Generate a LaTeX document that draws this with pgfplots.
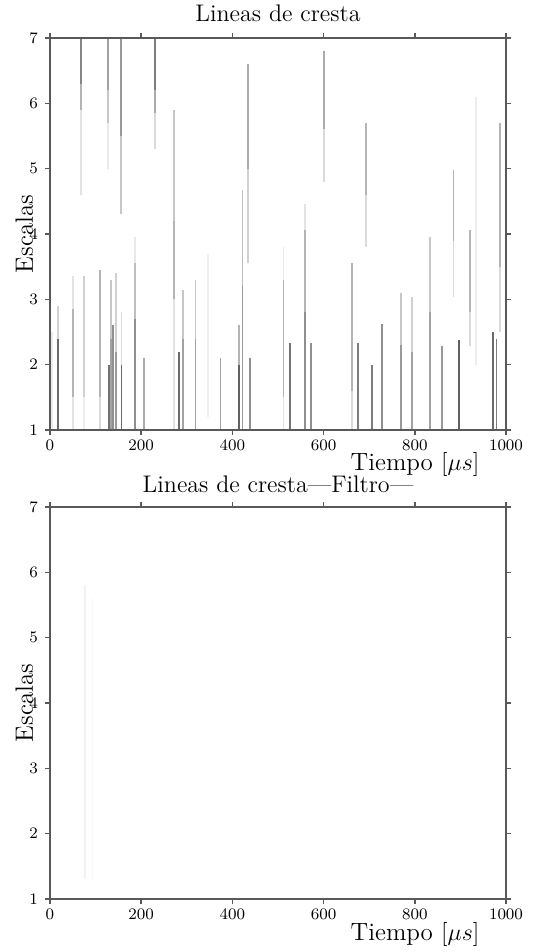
\documentclass[border=0pt]{standalone}
\usepackage{pgfplots}
\pgfplotsset{compat=1.18}
\usepackage{pgfplotstable}

% ridge segments: x, start scale, length, intensity (0 = white, 1 = dark)
\pgfplotstableread{
x y dy c
5 1 1.5 0.1
18 1 1.4 0.8
18 2.4 0.5 0.25
51 1 0.5 0.15
51 1.5 1.35 0.4
51 2.85 0.5 0.15
68 6.3 0.7 0.65
68 5.9 0.4 0.4
68 4.6 1.3 0.15
75 1 0.5 0.1
75 1.5 1.85 0.25
110 1 0.5 0.2
110 1.5 1.95 0.4
127 6.2 0.8 0.5
127 5.7 0.5 0.3
127 5.0 0.7 0.12
129 1 1 0.75
134 1 1.4 0.5
134 2.4 0.9 0.3
138 1 1.6 0.6
144 1 1.2 0.55
144 2.2 1.2 0.25
155 5.5 1.5 0.55
155 4.3 1.2 0.3
157 1 1 0.8
157 2 0.8 0.2
186 1 1.7 0.6
186 2.7 0.85 0.35
186 3.55 0.4 0.12
207 1 1.1 0.45
230 6.2 0.8 0.7
230 5.85 0.35 0.45
230 5.3 0.55 0.2
272 4.2 1.7 0.3
272 3.0 1.2 0.4
272 1 2 0.15
283 1 1.2 0.8
292 1 1.4 0.5
292 2.4 0.75 0.3
319 1 1.4 0.5
319 2.4 0.9 0.3
347 1.2 2.5 0.08
374 1 1.1 0.5
415 1 1.0 0.85
415 2.0 0.6 0.4
422 1 2.2 0.55
422 3.2 1.47 0.35
434 5.0 1.6 0.45
434 3.55 1.45 0.25
439 1 1.1 0.6
512 1 0.5 0.15
512 1.5 1.8 0.4
512 3.3 0.5 0.12
526 1 1.33 0.75
560 1 1.8 0.6
560 2.8 1.26 0.4
560 4.06 0.4 0.15
572 1 1.33 0.6
600 5.6 1.2 0.45
600 4.8 0.8 0.2
663 1 0.6 0.2
663 1.6 1.95 0.4
676 1 1.33 0.7
693 4.6 1.1 0.4
693 3.8 0.8 0.2
707 1 1 0.7
728 1 1.63 0.6
769 1 1.3 0.55
769 2.3 0.8 0.3
794 1 1.2 0.5
794 2.2 0.84 0.25
834 1 1.8 0.5
834 2.8 1.16 0.3
859 1 1.28 0.55
885 3.9 1.08 0.4
885 3.04 0.86 0.2
897 1 1.38 0.85
921 2.8 1.26 0.4
921 2.28 0.52 0.2
935 2 4.1 0.1
972 1 1.5 0.8
979 1 1.4 0.7
986 3.5 2.2 0.4
986 2.5 1.0 0.2
}\ridgesA

\pgfplotstableread{
x y dy c
76 1.3 4.5 0.07
93 1.3 4.3 0.04
}\ridgesB

\begin{document}
\begin{tikzpicture}
\path[use as bounding box] (-25pt,-261pt) rectangle (248.5pt,215pt);
\pgfplotsset{
  ridgeaxis/.style={
    scale only axis, width=228pt, height=196pt,
    xmin=0, xmax=1000, ymin=1, ymax=7,
    xtick={0,200,...,1000}, ytick={1,...,7},
    /pgf/number format/1000 sep={},
    tick align=outside, major tick length=2.5pt,
    axis on top=true,
    axis line style={black!65, line width=1pt},
    every tick/.style={black!65, line width=0.8pt},
    tick label style={font=\fontsize{8}{9}\selectfont},
    xticklabel style={yshift=1pt},
    colormap={ridge}{rgb255(0cm)=(255,255,255); rgb255(1cm)=(70,70,70)},
    point meta min=0, point meta max=1,
    title style={at={(axis description cs:0.5,1)}, anchor=base, yshift=2pt, inner sep=1pt, font=\fontsize{12}{14}\selectfont},
    xlabel={Tiempo $[\mu s]$},
    xlabel style={at={(axis description cs:0.947,0)}, anchor=base east, yshift=-20.5pt, inner sep=1pt, font=\fontsize{12.5}{15}\selectfont},
    ylabel={Escalas},
    ylabel style={at={(axis description cs:0,0.5)}, anchor=base, yshift=8.5pt, font=\fontsize{12.5}{15}\selectfont},
  }
}
\begin{axis}[ridgeaxis, at={(0pt,0pt)}, anchor=south west, title={Lineas de cresta}]
\addplot[quiver={u=0, v=\thisrow{dy}, colored=mapped color}, point meta=\thisrow{c}, line width=0.9pt, -] table[x=x, y=y] \ridgesA;
\end{axis}
\begin{axis}[ridgeaxis, at={(0pt,-234.5pt)}, anchor=south west, title={Lineas de cresta---Filtro---}, title style={yshift=-0.8pt}]
\addplot[quiver={u=0, v=\thisrow{dy}, colored=mapped color}, point meta=\thisrow{c}, line width=0.9pt, -] table[x=x, y=y] \ridgesB;
\end{axis}
\end{tikzpicture}
\end{document}
